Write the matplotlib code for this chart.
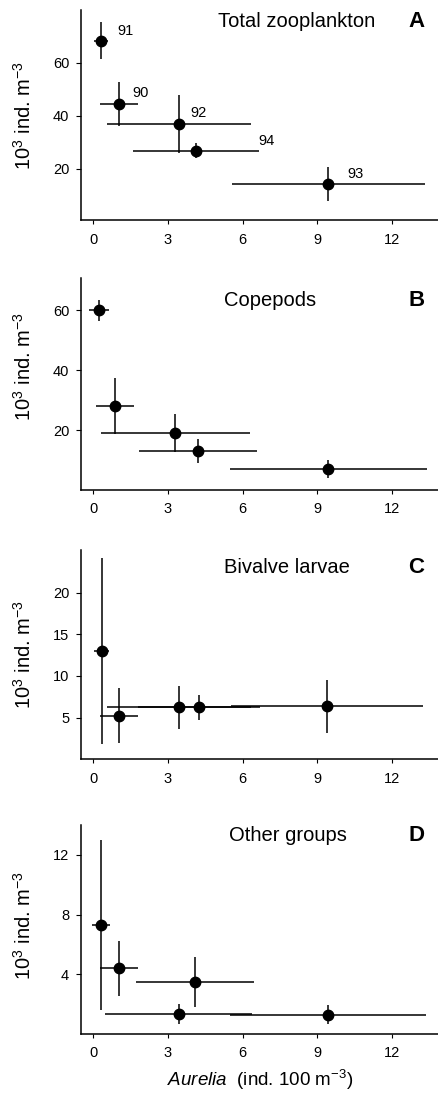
import matplotlib
matplotlib.use('Agg')
import matplotlib.pyplot as plt

plt.rcParams['font.family'] = ['Liberation Sans', 'DejaVu Sans']
plt.rcParams['mathtext.fontset'] = 'custom'
plt.rcParams['mathtext.rm'] = 'Liberation Sans'
plt.rcParams['mathtext.it'] = 'Liberation Sans:italic'

# Panel A - total zooplankton (labels are the years)
years_a = ['91', '90', '92', '94', '93']
x_a = [0.3, 1.03, 3.45, 4.12, 9.45]
xerr_a = [0.27, 0.75, 2.9, 2.52, 3.88]
y_a = [68.4, 44.4, 36.8, 26.7, 14.2]
yerr_a = [7.0, 8.2, 11.1, 2.9, 6.5]
year_lx = [0.95, 1.55, 3.9, 6.65, 10.2]
year_ly = [72.0, 48.5, 41.0, 30.3, 18.0]

# Panel B - copepods
x_b = [0.23, 0.86, 3.3, 4.2, 9.45]
xerr_b = [0.4, 0.77, 3.0, 2.38, 3.97]
y_b = [60.0, 28.1, 19.0, 13.0, 6.9]
yerr_b = [3.5, 9.3, 6.3, 3.9, 3.0]

# Panel C - bivalve larvae
x_c = [0.33, 1.03, 3.43, 4.24, 9.4]
xerr_c = [0.3, 0.75, 2.9, 2.45, 3.87]
y_c = [13.0, 5.24, 6.24, 6.24, 6.36]
yerr_c = [11.2, 3.3, 2.6, 1.5, 3.2]

# Panel D - other groups
x_d = [0.31, 1.03, 3.43, 4.09, 9.44]
xerr_d = [0.35, 0.78, 2.95, 2.36, 3.95]
y_d = [7.29, 4.4, 1.33, 3.51, 1.29]
yerr_d = [5.7, 1.83, 0.65, 1.67, 0.65]

x_ticks = [0, 3, 6, 9, 12]

panels = [
    # x, xerr, y, yerr, ylim, yticks, title, letter, rect, title pos, ylabel y
    (x_a, xerr_a, y_a, yerr_a, (0.5, 80), [20, 40, 60], 'Total zooplankton', 'A',
     [0.1845, 0.7987, 0.8155, 0.1921], (0.602, 0.944), 0.5),
    (x_b, xerr_b, y_b, yerr_b, (0, 70.7), [20, 40, 60], 'Copepods', 'B',
     [0.1845, 0.5517, 0.8155, 0.1940], (0.529, 0.896), 0.58),
    (x_c, xerr_c, y_c, yerr_c, (0, 25.1), [5, 10, 15, 20], 'Bivalve larvae', 'C',
     [0.1845, 0.3053, 0.8155, 0.1915], (0.574, 0.914), 0.5),
    (x_d, xerr_d, y_d, yerr_d, (0, 14), [4, 8, 12], 'Other groups', 'D',
     [0.1845, 0.0540, 0.8155, 0.1912], (0.577, 0.952), 0.52),
]

fig = plt.figure(figsize=(4.39, 10.93), dpi=100)

axes = []
for x, xe, y, ye, ylim, yt, title, letter, rect, tpos, ly in panels:
    ax = fig.add_axes(rect)
    ax.errorbar(x, y, xerr=xe, yerr=ye, fmt='o', color='black', ms=7.5,
                elinewidth=1.1, capsize=0)
    ax.set_xlim(-0.5, 13.9)
    ax.set_ylim(*ylim)
    ax.set_xticks(x_ticks)
    ax.set_yticks(yt)
    for s in ['top', 'right']:
        ax.spines[s].set_visible(False)
    for s in ['left', 'bottom']:
        ax.spines[s].set_linewidth(1.1)
    ax.tick_params(axis='y', labelsize=10.5, length=3.5, width=0.8, pad=5)
    ax.tick_params(axis='x', labelsize=10.5, length=3, width=0.8, pad=6)
    ax.set_ylabel(r'10$^3$ ind. m$^{-3}$', fontsize=14.5)
    ax.yaxis.set_label_coords(-0.13, ly)
    ax.text(tpos[0], tpos[1], title, transform=ax.transAxes, ha='center',
            va='center', fontsize=14.5)
    ax.text(0.936, tpos[1], letter, transform=ax.transAxes, ha='center',
            va='center', fontsize=16, fontweight='bold')
    axes.append(ax)

for lbl, lx, lyy in zip(years_a, year_lx, year_ly):
    axes[0].text(lx, lyy, lbl, fontsize=10.5, ha='left', va='center')

axes[3].set_xlabel(r'$\it{Aurelia}$  (ind. 100 m$^{-3}$)', fontsize=13.5, labelpad=5)

fig.savefig('out.png', dpi=100)
